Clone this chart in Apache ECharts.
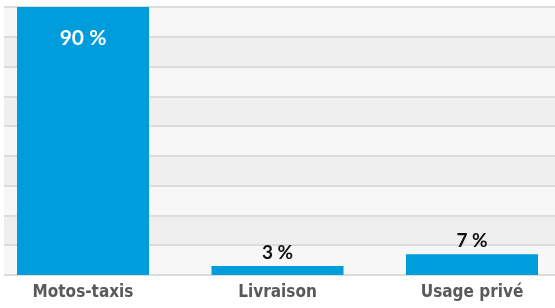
<!DOCTYPE html>
<html>
<head>
<meta charset="utf-8">
<script src="https://cdn.jsdelivr.net/npm/echarts@6/dist/echarts.min.js"></script>
<style>
  html, body { margin: 0; padding: 0; background: #fff; }
  #main { width: 555px; height: 308px; }
</style>
</head>
<body>
<div id="main"></div>
<script type="text/javascript">
    // données du graphique
    var categories = ['Motos-taxis', 'Livraison', 'Usage privé'];
    var values = [90, 3, 7];
    var axisMin = 0;
    var axisMax = 90;
    var axisStep = 10;

    var myChart = echarts.init(document.getElementById('main'));

    var barData = [];
    for (var i = 0; i < values.length; i++) {
        var item = { value: values[i] };
        if (i === 0) {
            // la grande barre : étiquette blanche à l'intérieur
            item.label = {
                position: 'insideTop',
                distance: 21,
                color: '#ffffff',
                fontFamily: 'Lato',
                fontWeight: 'bold',
                fontSize: 21
            };
        }
        barData.push(item);
    }

    var option = {
        animation: false,
        grid: [
            { left: 4, right: 0, top: 7, bottom: 33 },
            { left: 83, right: 83, top: 7, bottom: 33 }
        ],
        xAxis: [
            { gridIndex: 0, type: 'category', data: categories, show: false },
            {
                gridIndex: 1,
                type: 'category',
                data: categories,
                boundaryGap: false,
                axisLine: { show: false },
                axisTick: { show: false },
                axisLabel: {
                    margin: 9,
                    color: '#595959',
                    fontFamily: '"DejaVu Sans Condensed", "DejaVu Sans", sans-serif',
                    fontWeight: 'bold',
                    fontSize: 17
                }
            }
        ],
        yAxis: [
            {
                gridIndex: 0,
                type: 'value',
                min: axisMin,
                max: axisMax,
                interval: axisStep,
                axisLine: { show: false },
                axisTick: { show: false },
                axisLabel: { show: false },
                splitLine: { show: true, lineStyle: { color: '#dcdcdc', width: 2 } },
                splitArea: { show: true, areaStyle: { color: ['#f7f7f7', '#efefef'] } }
            },
            {
                gridIndex: 1,
                type: 'value',
                min: axisMin,
                max: axisMax,
                interval: axisStep,
                show: false
            }
        ],
        series: [{
            type: 'bar',
            xAxisIndex: 1,
            yAxisIndex: 1,
            barWidth: 132,
            itemStyle: { color: '#009ddc' },
            label: {
                show: true,
                position: 'top',
                distance: 4,
                color: '#111111',
                fontFamily: 'Lato',
                fontWeight: 'bold',
                fontSize: 19,
                formatter: function (p) { return p.value + ' %'; }
            },
            data: barData
        }]
    };

    myChart.setOption(option);
</script>
</body>
</html>
